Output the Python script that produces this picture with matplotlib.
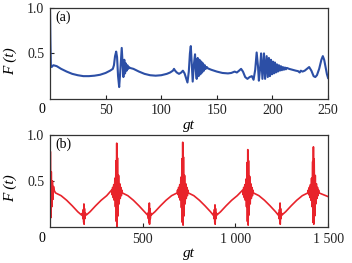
import matplotlib
matplotlib.use('Agg')
import matplotlib.pyplot as plt

plt.rcParams['font.family'] = ['Liberation Serif', 'DejaVu Serif']
plt.rcParams['font.size'] = 9.5

BLUE = "#2c4fa6"
RED  = "#e8232b"

# ---- panel (a): F(t) for gt in [0, 250], read point by point ----
a_t = [0, 0.4, 0.8, 1.5, 3, 6, 10, 15, 20, 25, 30, 35, 40, 45, 50, 54, 56.5,
       57.5, 58.5, 59.5, 60.3, 61.2, 62.2, 63.2, 64.5, 65.3, 66.0, 66.8, 67.5,
       68.2, 68.9, 69.6, 70.3, 71.0, 72, 75, 80, 85, 90, 95, 100, 105, 108,
       110.5, 111.5, 112.5, 114, 116, 118, 119.5, 121, 122.5, 123.6, 124.8,
       125.8, 126.6, 127.4, 128.3, 129.4, 130.4, 131.2, 131.9, 132.8, 133.6,
       134.4, 135.2, 136.0, 136.8, 137.6, 138.4, 139.2, 140, 141, 142, 145,
       150, 155, 160, 163, 166, 168, 170, 171.8, 173.5, 175.5, 177.5, 179.5,
       181.5, 183, 184.5, 185.8, 187, 187.8, 188.8, 189.8, 191, 192.4, 193.4,
       194.8, 195.8, 196.8, 197.7, 198.6, 199.5, 200.4, 201.3, 202.2, 203.1,
       204, 204.9, 205.8, 206.7, 207.6, 208.5, 209.4, 210.3, 211.2, 212.1,
       213, 215, 218, 221, 223, 224.5, 225.5, 227, 229, 231, 233, 235, 237,
       238.5, 240, 242, 244, 245.3, 246.5, 248, 249, 250]
a_f = [1.0, 0.62, 0.36, 0.35, 0.37, 0.36, 0.33, 0.30, 0.275, 0.26, 0.25, 0.25,
       0.255, 0.265, 0.285, 0.31, 0.33, 0.37, 0.47, 0.52, 0.46, 0.25, 0.13,
       0.30, 0.56, 0.40, 0.24, 0.43, 0.28, 0.39, 0.31, 0.37, 0.33, 0.35, 0.34,
       0.33, 0.30, 0.275, 0.26, 0.255, 0.26, 0.275, 0.29, 0.31, 0.33, 0.31,
       0.29, 0.275, 0.29, 0.31, 0.28, 0.22, 0.18, 0.30, 0.50, 0.58, 0.40, 0.19,
       0.38, 0.49, 0.30, 0.22, 0.45, 0.25, 0.43, 0.27, 0.41, 0.29, 0.39, 0.31,
       0.37, 0.33, 0.35, 0.335, 0.32, 0.30, 0.285, 0.28, 0.285, 0.30, 0.29,
       0.31, 0.33, 0.30, 0.24, 0.22, 0.24, 0.25, 0.21, 0.32, 0.51, 0.36, 0.20,
       0.32, 0.50, 0.22, 0.50, 0.22, 0.47, 0.24, 0.45, 0.25, 0.43, 0.27, 0.41,
       0.28, 0.40, 0.29, 0.38, 0.30, 0.37, 0.31, 0.36, 0.315, 0.35, 0.32,
       0.345, 0.325, 0.34, 0.33, 0.32, 0.31, 0.305, 0.29, 0.31, 0.30, 0.31,
       0.33, 0.35, 0.31, 0.25, 0.24, 0.26, 0.33, 0.43, 0.47, 0.43, 0.33, 0.27,
       0.23]

# ---- panel (b): F(t) for gt in [0, 1500] ----
# smooth envelope between the bursts
b_base_t = [0, 30, 60, 90, 120, 150, 170, 183, 196, 216, 246, 276, 306, 336,
            360, 390, 420, 450, 480, 510, 526, 536, 546, 566, 596, 626, 656,
            686, 716, 746, 776, 806, 836, 866, 880, 890, 900, 920, 950, 980,
            1010, 1040, 1067, 1097, 1127, 1157, 1187, 1217, 1231, 1241, 1251,
            1271, 1301, 1331, 1361, 1391, 1421, 1451, 1481, 1500]
b_base_f = [0.38, 0.37, 0.34, 0.29, 0.23, 0.165, 0.13, 0.12, 0.13, 0.165,
            0.23, 0.29, 0.34, 0.37, 0.38, 0.37, 0.34, 0.29, 0.23, 0.165, 0.13,
            0.12, 0.13, 0.165, 0.23, 0.29, 0.34, 0.37, 0.38, 0.37, 0.34, 0.29,
            0.23, 0.165, 0.13, 0.12, 0.13, 0.165, 0.23, 0.29, 0.34, 0.37, 0.38,
            0.37, 0.34, 0.29, 0.23, 0.165, 0.13, 0.12, 0.13, 0.165, 0.23, 0.29,
            0.34, 0.37, 0.38, 0.37, 0.345, 0.33]

# large bursts (revivals)
big_t  = [360, 716, 1067, 1421]
big_dt = [-28, -25, -22, -19, -16, -13, -10, -7, -4, -2, 0,
          2, 4, 7, 10, 13, 16, 19, 22, 25, 28]
big_f  = [
    [0.40, 0.35, 0.43, 0.32, 0.46, 0.29, 0.53, 0.22, 0.72, 0.06, 0.91,
     0.00, 0.75, 0.12, 0.56, 0.25, 0.47, 0.31, 0.43, 0.34, 0.40],
    [0.40, 0.35, 0.43, 0.32, 0.46, 0.29, 0.54, 0.21, 0.74, 0.05, 0.92,
     0.02, 0.76, 0.12, 0.56, 0.25, 0.47, 0.31, 0.43, 0.34, 0.40],
    [0.40, 0.35, 0.43, 0.32, 0.46, 0.29, 0.52, 0.22, 0.70, 0.06, 0.84,
     0.02, 0.72, 0.13, 0.55, 0.25, 0.47, 0.31, 0.43, 0.34, 0.40],
    [0.40, 0.35, 0.43, 0.32, 0.46, 0.29, 0.53, 0.22, 0.71, 0.05, 0.87,
     0.03, 0.74, 0.12, 0.56, 0.25, 0.47, 0.31, 0.43, 0.34, 0.40],
]
start_dt = [0, 1, 2, 4, 7, 10, 13, 16, 19, 22]
start_f  = [1.0, 0.02, 0.82, 0.10, 0.60, 0.22, 0.50, 0.30, 0.44, 0.40]

# small bursts at the minima
small_t  = [183, 536, 890, 1241]
small_dt = [-8, -5, -3, -1, 0, 1, 3, 5, 8]
small_f  = [
    [0.15, 0.09, 0.19, 0.05, 0.25, 0.03, 0.20, 0.09, 0.15],
    [0.15, 0.09, 0.19, 0.05, 0.26, 0.03, 0.20, 0.09, 0.15],
    [0.15, 0.09, 0.19, 0.05, 0.24, 0.03, 0.20, 0.09, 0.15],
    [0.15, 0.09, 0.19, 0.05, 0.26, 0.03, 0.20, 0.09, 0.15],
]


def merge_bursts():
    windows = [(c + big_dt[0], c + big_dt[-1]) for c in big_t]
    windows += [(c + small_dt[0], c + small_dt[-1]) for c in small_t]
    windows.append((0, start_dt[-1]))
    pts = [(t, f) for t, f in zip(b_base_t, b_base_f)
           if not any(lo <= t <= hi for lo, hi in windows)]
    for c, row in zip(big_t, big_f):
        pts += [(c + d, f) for d, f in zip(big_dt, row)]
    for c, row in zip(small_t, small_f):
        pts += [(c + d, f) for d, f in zip(small_dt, row)]
    pts += list(zip(start_dt, start_f))
    pts.sort(key=lambda p: p[0])
    return [p[0] for p in pts], [p[1] for p in pts]


b_t, b_f = merge_bursts()

fig = plt.figure(figsize=(3.52, 2.63), dpi=100)
ax1 = fig.add_axes([0.142, 0.624, 0.790, 0.346])
ax2 = fig.add_axes([0.142, 0.137, 0.790, 0.350])

ax1.plot(a_t, a_f, color=BLUE, linewidth=1.5)
ax2.plot(b_t, b_f, color=RED, linewidth=1.2)

setups = [
    (ax1, 250, [50, 100, 150, 200, 250], ["50", "100", "150", "200", "250"], "(a)"),
    (ax2, 1500, [500, 1000, 1500], ["500", "1 000", "1 500"], "(b)"),
]
for ax, xmax, xt, xl, tag in setups:
    ax.set_xlim(0, xmax)
    ax.set_ylim(0, 1.0)
    ax.set_xticks(xt)
    ax.set_xticklabels(xl)
    ax.set_yticks([0.5, 1.0])
    ax.set_yticklabels(["0.5", "1.0"])
    ax.tick_params(direction="in", length=3, width=0.8, pad=4,
                   labelsize=10, colors="#222222")
    for spine in ax.spines.values():
        spine.set_edgecolor("#333333")
        spine.set_linewidth(0.9)
    ax.set_ylabel("F (t)", fontstyle="italic", fontsize=11)
    ax.yaxis.set_label_coords(-0.12, 0.42)
    ax.set_xlabel("gt", fontstyle="italic", fontsize=11, labelpad=1)
    ax.text(0.02, 0.97, tag, transform=ax.transAxes, ha="left", va="top",
            fontsize=10)
    ax.text(-0.03, -0.05, "0", transform=ax.transAxes, ha="center",
            va="top", fontsize=10)

fig.savefig("out.png", dpi=100)
